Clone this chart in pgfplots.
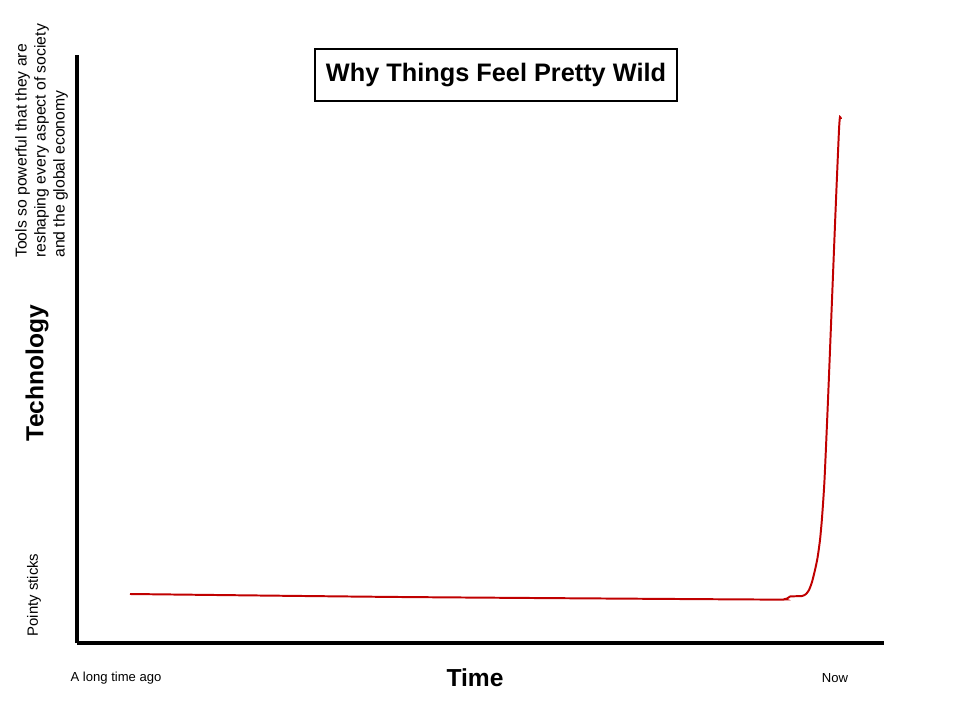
\documentclass[border=0pt]{standalone}
\usepackage{pgfplots}
\pgfplotsset{compat=1.18}
\usepackage{fontspec}
\setmainfont{Liberation Sans}
\definecolor{curvered}{HTML}{C00000}

\begin{document}
\begin{tikzpicture}
\begin{axis}[
  scale only axis,
  width=201.75mm, height=147mm,
  xmin=77, xmax=884, ymin=77, ymax=665,
  axis x line=bottom, axis y line=left,
  axis line style={-, line width=2.3pt, black},
  ticks=none,
  clip=false,
]
% page extent (960 x 720 px)
\path (axis cs:0,0) rectangle (axis cs:960,720);

% technology over time
\addplot[curvered, line width=1.4pt, smooth, tension=0.4] coordinates {
  (130,126) (400,123) (757,120.5) (785,121) (790,123.5) (802,124)
  (806,126) (809,130) (812,138) (815,150) (817.5,162) (820,180)
  (822,202) (824.5,240) (828,320) (832,420) (836,520) (839,590)
  (840,603) (841,601)
};

% title box
\node[draw, line width=1.4pt, minimum width=90.5mm, minimum height=13mm, inner sep=0pt,
      font=\bfseries\fontsize{18}{22}\selectfont]
  at (axis cs:496,645) {Why Things Feel Pretty Wild};

% axis titles
\node[rotate=90, font=\bfseries\fontsize{17.5}{21}\selectfont] at (axis cs:37,347) {Technology};
\node[font=\bfseries\fontsize{17.5}{21}\selectfont] at (axis cs:475,42) {Time};

% end labels
\node[font=\fontsize{9.3}{12}\selectfont] at (axis cs:116,42) {A long time ago};
\node[font=\fontsize{9.3}{12}\selectfont] at (axis cs:835,42) {Now};
\node[rotate=90, font=\fontsize{10.6}{12}\selectfont] at (axis cs:34,125) {Pointy sticks};
\node[rotate=90, anchor=north west, inner sep=0pt, align=left,
      font=\fontsize{11.2}{13.5}\selectfont] at (axis cs:15,462)
  {Tools so powerful that they are\\reshaping every aspect of society\\and the global economy};
\end{axis}
\end{tikzpicture}
\end{document}
